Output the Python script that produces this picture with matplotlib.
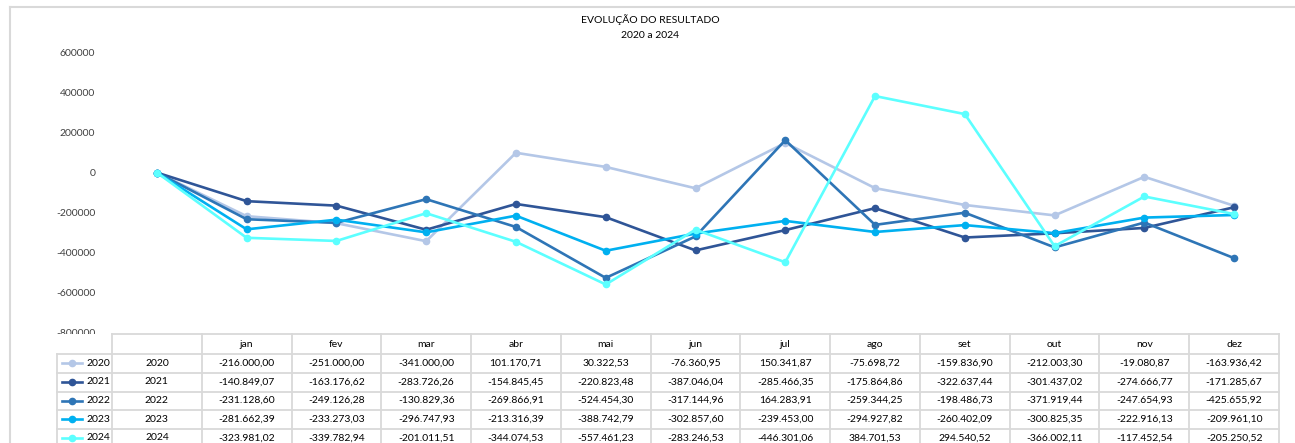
import matplotlib
matplotlib.use("Agg")
import matplotlib.pyplot as plt
from matplotlib.lines import Line2D
from matplotlib.patches import Rectangle
from matplotlib.transforms import blended_transform_factory

plt.rcParams['font.family'] = ['Lato', 'DejaVu Sans']

# categories: first one is blank (Excel plots the year column there)
categories = ["", "jan", "fev", "mar", "abr", "mai", "jun", "jul", "ago", "set", "out", "nov", "dez"]
years = [2020, 2021, 2022, 2023, 2024]

res_2020 = [-216000.00, -251000.00, -341000.00, 101170.71, 30322.53, -76360.95,
            150341.87, -75698.72, -159836.90, -212003.30, -19080.87, -163936.42]
res_2021 = [-140849.07, -163176.62, -283726.26, -154845.45, -220823.48, -387046.04,
            -285466.35, -175864.86, -322637.44, -301437.02, -274666.77, -171285.67]
res_2022 = [-231128.60, -249126.28, -130829.36, -269866.91, -524454.30, -317144.96,
            164283.91, -259344.25, -198486.73, -371919.44, -247654.93, -425655.92]
res_2023 = [-281662.39, -233273.03, -296747.93, -213316.39, -388742.79, -302857.60,
            -239453.00, -294927.82, -260402.09, -300825.35, -222916.13, -209961.10]
res_2024 = [-323981.02, -339782.94, -201011.51, -344074.53, -557461.23, -283246.53,
            -446301.06, 384701.53, 294540.52, -366002.11, -117452.54, -205250.52]

series = [res_2020, res_2021, res_2022, res_2023, res_2024]
colors = ["#B4C7E7", "#2F5597", "#2E75B6", "#00B0F0", "#5CFFFF"]

y_ticks = [-800000, -600000, -400000, -200000, 0, 200000, 400000, 600000]

W, H = 1295, 443
fig = plt.figure(figsize=(W / 100, H / 100), dpi=100)

# outer chart frame (only top and left edges visible in the crop)
fig.add_artist(Line2D([10 / W, 1], [1 - 7 / H] * 2, transform=fig.transFigure, color="#D9D9D9", lw=1.5))
fig.add_artist(Line2D([10 / W] * 2, [0, 1 - 7 / H], transform=fig.transFigure, color="#D9D9D9", lw=1.5))

# plot area
left, right, top, bottom = 112, 1279, 53, 333
ax = fig.add_axes([left / W, 1 - bottom / H, (right - left) / W, (bottom - top) / H])
ax.set_xlim(-0.5, len(categories) - 0.5)
ax.set_ylim(-800000, 600000)
for s in ax.spines.values():
    s.set_visible(False)
ax.set_xticks([])
ax.set_yticks(y_ticks)
ax.set_yticklabels([str(v) for v in y_ticks], fontsize=7.5, color="#404040")
ax.tick_params(axis="y", length=0, pad=12)
ax.patch.set_alpha(0)

xs = list(range(len(categories)))
for yr, vals, c in zip(years, series, colors):
    ax.plot(xs, [yr] + vals, color=c, lw=1.9, marker="o", markersize=4.5,
            solid_joinstyle="round", clip_on=False)

fig.text(650 / W, 1 - 20 / H, "EVOLUÇÃO DO RESULTADO", ha="center", va="center", fontsize=7.5, color="#000000")
fig.text(650 / W, 1 - 36 / H, "2020 a 2024", ha="center", va="center", fontsize=7.5, color="#000000")

# the -800000 label is half hidden by the table in the original
fig.add_artist(Rectangle((45 / W, 1 - 353 / H), (111 - 45) / W, (353 - 333.5) / H,
                         transform=fig.transFigure, facecolor="white", edgecolor="none", zorder=5))

# data table under the chart
tr = blended_transform_factory(ax.transData, fig.transFigure)
grid_c = "#D9D9D9"
row_top = 334
row_h = [20.3, 18.7, 18.7, 18.7, 18.7, 18.7]
row_edges = [row_top]
for h in row_h:
    row_edges.append(row_edges[-1] + h)
unit = (right - left) / len(categories)
leg_left = -0.5 - 55 / unit
x_lo, x_hi = -0.5, len(categories) - 0.5


def hline(y, x0, x1):
    fig.add_artist(Line2D([x0, x1], [1 - y / H] * 2, transform=tr, color=grid_c, lw=1.3, clip_on=False, zorder=6))


def vline(x, y0, y1):
    fig.add_artist(Line2D([x, x], [1 - y0 / H, 1 - y1 / H], transform=tr, color=grid_c, lw=1.3, clip_on=False, zorder=6))


def fmt(v):
    s = f"{v:,.2f}"
    return s.replace(",", "X").replace(".", ",").replace("X", ".")


hline(row_edges[0], x_lo, x_hi)
for y in row_edges[1:]:
    hline(y, leg_left, x_hi)
for i in range(len(categories) + 1):
    vline(i - 0.5, row_edges[0], H + 5)
vline(leg_left, row_edges[1], H + 5)

for i, cat in enumerate(categories):
    yc = (row_edges[0] + row_edges[1]) / 2
    fig.text(i, 1 - yc / H, cat, transform=tr, ha="center", va="center", fontsize=7.5, color="#000000")

for r, (yr, vals, c) in enumerate(zip(years, series, colors)):
    yc = (row_edges[r + 1] + row_edges[r + 2]) / 2 - 0.5
    yf = 1 - yc / H
    # legend key
    kx0 = leg_left + 4.5 / unit
    kx1 = leg_left + 25 / unit
    fig.add_artist(Line2D([kx0, kx1], [yf, yf], transform=tr, color=c, lw=1.9, zorder=6))
    fig.add_artist(Line2D([(kx0 + kx1) / 2], [yf], transform=tr, color=c, marker="o", markersize=4.5, lw=0, zorder=6))
    fig.text(-0.5 - 2 / unit, yf, str(yr), transform=tr, ha="right", va="center", fontsize=7.5, color="#000000")
    fig.text(0, yf, str(yr), transform=tr, ha="center", va="center", fontsize=7.5, color="#000000")
    for i, v in enumerate(vals, start=1):
        fig.text(i, yf, fmt(v), transform=tr, ha="center", va="center", fontsize=7.5, color="#000000")

fig.savefig("out.png", dpi=100)
